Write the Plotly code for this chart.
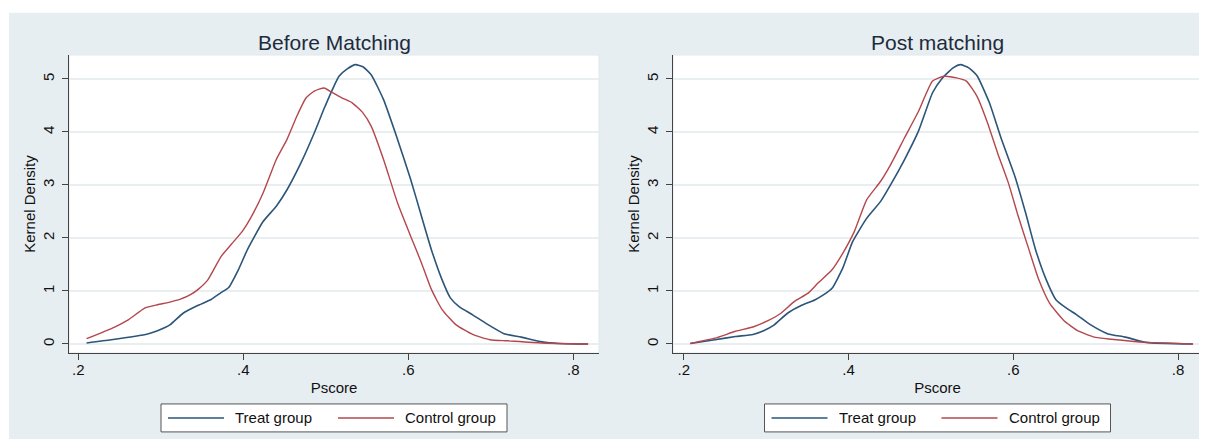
import plotly.graph_objects as go

# ---------------- data ----------------
titles = ["Before Matching", "Post matching"]
series_names = ["Treat group", "Control group"]
x_tickvals = [0.2, 0.4, 0.6, 0.8]
x_ticktext = [".2", ".4", ".6", ".8"]
y_tickvals = [0, 1, 2, 3, 4, 5]

before_treat_x = [0.210, 0.240, 0.284, 0.296, 0.311, 0.327, 0.344, 0.361, 0.373, 0.382, 0.394, 0.405,
                  0.424, 0.440, 0.453, 0.470, 0.486, 0.499, 0.516, 0.526, 0.536, 0.545, 0.555, 0.570,
                  0.587, 0.603, 0.616, 0.628, 0.641, 0.651, 0.662, 0.678, 0.695, 0.716, 0.737, 0.762,
                  0.783, 0.818]
before_treat_y = [0.02, 0.08, 0.19, 0.25, 0.36, 0.58, 0.72, 0.84, 0.97, 1.06, 1.40, 1.78,
                  2.31, 2.60, 2.91, 3.42, 3.98, 4.48, 5.05, 5.19, 5.27, 5.23, 5.08, 4.61,
                  3.86, 3.10, 2.41, 1.78, 1.21, 0.87, 0.70, 0.55, 0.38, 0.195, 0.13, 0.04,
                  0.01, 0.0]

before_control_x = [0.210, 0.244, 0.261, 0.281, 0.296, 0.311, 0.323, 0.336, 0.346, 0.357, 0.373, 0.386,
                    0.399, 0.409, 0.424, 0.440, 0.453, 0.465, 0.476, 0.486, 0.498, 0.507, 0.520, 0.532,
                    0.545, 0.555, 0.570, 0.587, 0.603, 0.616, 0.628, 0.641, 0.658, 0.678, 0.699, 0.720,
                    0.762, 0.818]
before_control_y = [0.10, 0.32, 0.46, 0.68, 0.74, 0.79, 0.84, 0.93, 1.04, 1.21, 1.65, 1.89,
                    2.13, 2.38, 2.85, 3.48, 3.86, 4.30, 4.64, 4.77, 4.83, 4.75, 4.64, 4.55,
                    4.36, 4.11, 3.48, 2.66, 2.03, 1.53, 1.03, 0.65, 0.36, 0.18, 0.08, 0.06,
                    0.02, 0.0]

post_treat_x = [0.208, 0.238, 0.263, 0.284, 0.297, 0.309, 0.326, 0.342, 0.359, 0.370, 0.380, 0.393,
                0.405, 0.422, 0.439, 0.451, 0.468, 0.485, 0.502, 0.514, 0.527, 0.536, 0.546, 0.556,
                0.571, 0.585, 0.602, 0.615, 0.627, 0.640, 0.652, 0.665, 0.677, 0.694, 0.715, 0.736,
                0.761, 0.818]
post_treat_y = [0.01, 0.08, 0.14, 0.18, 0.25, 0.35, 0.58, 0.72, 0.83, 0.93, 1.05, 1.43,
                1.93, 2.37, 2.69, 3.00, 3.48, 4.02, 4.74, 5.02, 5.21, 5.27, 5.21, 5.06,
                4.55, 3.89, 3.16, 2.47, 1.78, 1.21, 0.83, 0.67, 0.55, 0.36, 0.19, 0.13,
                0.03, 0.0]

post_control_x = [0.208, 0.238, 0.263, 0.284, 0.301, 0.318, 0.334, 0.351, 0.363, 0.380, 0.393, 0.407,
                  0.422, 0.439, 0.451, 0.468, 0.485, 0.502, 0.516, 0.531, 0.543, 0.556, 0.568, 0.581,
                  0.594, 0.606, 0.619, 0.631, 0.644, 0.661, 0.677, 0.698, 0.719, 0.761, 0.818]
post_control_y = [0.01, 0.11, 0.24, 0.32, 0.43, 0.58, 0.80, 0.96, 1.15, 1.40, 1.71, 2.12,
                  2.72, 3.07, 3.38, 3.89, 4.39, 4.96, 5.05, 5.02, 4.96, 4.67, 4.20, 3.60,
                  3.04, 2.41, 1.78, 1.21, 0.77, 0.45, 0.26, 0.13, 0.09, 0.03, 0.0]

# ---------------- layout geometry ----------------
# The page body has an 8px default margin; design in window pixels and shift.
OFF = 8
WIN_W, WIN_H = 1207, 447
W, H = WIN_W - OFF, WIN_H - 2 * OFF          # figure size that fits without scrolling
PLOT_L, PLOT_T, PLOT_B = 69, 55, 353.3       # window pixels
PLOT_R = 1202
ML = PLOT_L - OFF
MT = PLOT_T - OFF
MB = H - (PLOT_B - OFF)
MR = W - (PLOT_R - OFF)
PW = W - ML - MR
PH = H - MT - MB


def px(x):
    """window pixel x -> paper x"""
    return (x - OFF - ML) / PW


def py(y):
    """window pixel y (from top) -> paper y"""
    return (H - MB - (y - OFF)) / PH


BLUE = "#2B5579"
RED = "#B3474C"
FONT = "Liberation Sans, Arial, Helvetica, sans-serif"
BG = "#E7EEF1"

fig = go.Figure()

panels = [
    (before_treat_x, before_treat_y, before_control_x, before_control_y, "x", "y"),
    (post_treat_x, post_treat_y, post_control_x, post_control_y, "x2", "y2"),
]
for tx, ty, cx, cy, xa, ya in panels:
    fig.add_trace(go.Scatter(x=tx, y=ty, mode="lines", name=series_names[0], xaxis=xa, yaxis=ya,
                             line=dict(color=BLUE, width=1.6, shape="spline", smoothing=0.5),
                             showlegend=False, hoverinfo="skip"))
    fig.add_trace(go.Scatter(x=cx, y=cy, mode="lines", name=series_names[1], xaxis=xa, yaxis=ya,
                             line=dict(color=RED, width=1.4, shape="spline", smoothing=0.5),
                             showlegend=False, hoverinfo="skip"))

left_dom = [0, px(599)]
right_dom = [px(673), 1]

xcommon = dict(tickvals=x_tickvals, ticktext=x_ticktext, ticks="outside", ticklen=6, tickwidth=1,
               tickcolor="#444", showline=True, linecolor="#444", linewidth=1, showgrid=False,
               zeroline=False, tickfont=dict(family=FONT, size=15, color="#111"),
               ticklabelstandoff=-3,
               title=dict(text="Pscore", font=dict(family=FONT, size=15, color="#111"), standoff=5),
               automargin=False, fixedrange=True)
ycommon = dict(tickvals=y_tickvals, ticks="outside", ticklen=6, tickwidth=1, tickcolor="#444",
               showline=True, linecolor="#444", linewidth=1, showgrid=True, gridcolor="#E9EEF1",
               gridwidth=1.5, zeroline=False, tickangle=-90, range=[-0.17, 5.452],
               tickfont=dict(family=FONT, size=15, color="#111"), ticklabelstandoff=2,
               title=dict(text="Kernel Density", font=dict(family=FONT, size=15, color="#111"), standoff=0),
               automargin=False, fixedrange=True)

fig.update_layout(
    width=W, height=H,
    margin=dict(l=ML, r=MR, t=MT, b=MB, pad=0),
    paper_bgcolor="white", plot_bgcolor="white",
    font=dict(family=FONT, size=15, color="#111"),
    xaxis=dict(domain=left_dom, range=[0.1887, 0.8312], anchor="y", **xcommon),
    yaxis=dict(domain=[0, 1], anchor="x", **ycommon),
    xaxis2=dict(domain=right_dom, range=[0.187, 0.829], anchor="y2", **xcommon),
    yaxis2=dict(domain=[0, 1], anchor="x2", **ycommon),
    showlegend=False,
)

shapes = []
# graph region background
shapes.append(dict(type="rect", xref="paper", yref="paper", x0=px(9), x1=px(WIN_W + 10),
                   y0=py(WIN_H + 10), y1=py(12.7),
                   fillcolor=BG, line=dict(width=0), layer="below"))
# plot region backgrounds (white) with faint border
for x0, x1 in [(PLOT_L, 599), (673, PLOT_R)]:
    shapes.append(dict(type="rect", xref="paper", yref="paper", x0=px(x0), x1=px(x1),
                       y0=py(PLOT_B), y1=py(PLOT_T),
                       fillcolor="white", line=dict(color="#E2E8EB", width=1), layer="below"))

annotations = []
centers = [334, 937.5]
for c, t in zip(centers, titles):
    annotations.append(dict(text=t, x=px(c), y=py(42), xref="paper", yref="paper", showarrow=False,
                            xanchor="center", yanchor="middle",
                            font=dict(family=FONT, size=21, color="#1E2B3C")))
    # legend box
    ly0, ly1 = 404.3, 432.3
    lym = (ly0 + ly1) / 2
    shapes.append(dict(type="rect", xref="paper", yref="paper", x0=px(c - 173), x1=px(c + 173),
                       y0=py(ly1), y1=py(ly0), fillcolor="white", line=dict(color="#555", width=1)))
    shapes.append(dict(type="line", xref="paper", yref="paper", x0=px(c - 166), x1=px(c - 110),
                       y0=py(lym), y1=py(lym), line=dict(color=BLUE, width=1.6)))
    shapes.append(dict(type="line", xref="paper", yref="paper", x0=px(c + 4), x1=px(c + 60),
                       y0=py(lym), y1=py(lym), line=dict(color=RED, width=1.4)))
    annotations.append(dict(text=series_names[0], x=px(c - 101), y=py(lym), xref="paper", yref="paper",
                            showarrow=False, xanchor="left", yanchor="middle",
                            font=dict(family=FONT, size=15, color="#111")))
    annotations.append(dict(text=series_names[1], x=px(c + 69), y=py(lym), xref="paper", yref="paper",
                            showarrow=False, xanchor="left", yanchor="middle",
                            font=dict(family=FONT, size=15, color="#111")))

fig.update_layout(shapes=shapes, annotations=annotations)

fig.write_html("out.html", config=dict(displayModeBar=False))
